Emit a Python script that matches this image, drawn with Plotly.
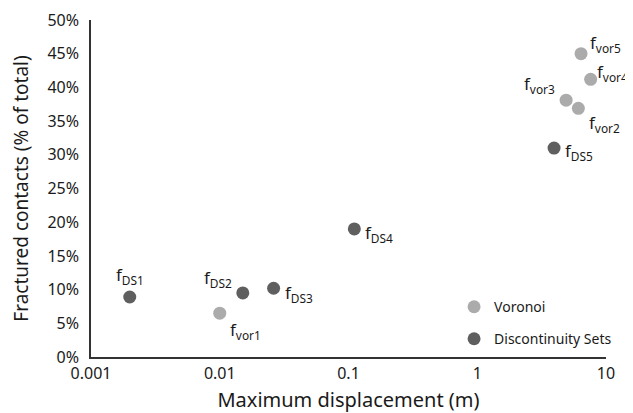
import plotly.graph_objects as go
import math

# Data
vor_labels = ["vor1", "vor2", "vor3", "vor4", "vor5"]
vor_x = [0.0100, 6.1, 4.9, 7.6, 6.4]
vor_y = [6.5, 36.9, 38.1, 41.2, 45.0]

ds_labels = ["DS1", "DS2", "DS3", "DS4", "DS5"]
ds_x = [0.0020, 0.0151, 0.0262, 0.111, 3.95]
ds_y = [8.9, 9.5, 10.2, 19.0, 31.0]

x_ticks = [0.001, 0.01, 0.1, 1, 10]
x_tick_text = ["0.001", "0.01", "0.1", "1", "10"]
y_ticks = [0, 5, 10, 15, 20, 25, 30, 35, 40, 45, 50]
y_tick_text = [f"{v}%" for v in y_ticks]

FONT = "Noto Sans"
LIGHT = "#ababab"
DARK = "#5f5f5f"
TXT = "#1a1a1a"

fig = go.Figure()
fig.add_trace(go.Scatter(
    x=vor_x, y=vor_y, mode="markers", name="Voronoi",
    marker=dict(color=LIGHT, size=13), legend="legend", cliponaxis=False))
fig.add_trace(go.Scatter(
    x=ds_x, y=ds_y, mode="markers", name="Discontinuity Sets",
    marker=dict(color=DARK, size=13), legend="legend2", cliponaxis=False))

# label placement (anchor, xshift, yshift)
vor_pos = {
    "vor1": ("left", "top", 8, -3),
    "vor2": ("left", "top", 9, -1),
    "vor3": ("right", "bottom", -9, 1),
    "vor4": ("left", "middle", 4, 7),
    "vor5": ("left", "middle", 7, 10),
}
ds_pos = {
    "DS1": ("center", "bottom", 0, 7),
    "DS2": ("right", "bottom", -9, 0),
    "DS3": ("left", "middle", 9, -5),
    "DS4": ("left", "middle", 9, -5),
    "DS5": ("left", "middle", 9, -3),
}

for labels, xs, ys, pos in [(vor_labels, vor_x, vor_y, vor_pos), (ds_labels, ds_x, ds_y, ds_pos)]:
    for lab, xv, yv in zip(labels, xs, ys):
        xa, ya, dx, dy = pos[lab]
        fig.add_annotation(
            x=math.log10(xv), y=yv, xref="x", yref="y",
            text=f"f<sub>{lab}</sub>", showarrow=False,
            xanchor=xa, yanchor=ya, xshift=dx, yshift=dy,
            font=dict(family=FONT, size=17, color=TXT))

axis_common = dict(
    showgrid=False, zeroline=False, showline=True, linecolor="#333333",
    linewidth=1.5, ticks="", tickfont=dict(family=FONT, size=16, color=TXT),
    automargin=False,
)

legend_common = dict(
    xanchor="left", yanchor="middle", bgcolor="rgba(0,0,0,0)",
    font=dict(family=FONT, size=14, color=TXT), itemwidth=30, borderwidth=0,
    orientation="h", entrywidth=122, entrywidthmode="pixels",
)

# page body has an 8px margin, so the figure is sized to fit the 633x413 window
fig.update_layout(
    width=625, height=405,
    margin=dict(l=83, r=25, t=12, b=56),
    paper_bgcolor="white", plot_bgcolor="white",
    font=dict(family=FONT, color=TXT),
    xaxis=dict(type="log", range=[-3, 1], tickvals=x_ticks, ticktext=x_tick_text,
               title=dict(text="Maximum displacement (m)", font=dict(family=FONT, size=20, color=TXT), standoff=10),
               ticklabelstandoff=1, **axis_common),
    yaxis=dict(range=[0, 50], tickvals=y_ticks, ticktext=y_tick_text,
               title=dict(text="Fractured contacts (% of total)", font=dict(family=FONT, size=19, color=TXT), standoff=14),
               ticklabelstandoff=7, **axis_common),
    showlegend=True,
    legend=dict(x=0.705, y=0.148, **legend_common),
    legend2=dict(x=0.705, y=0.053, **legend_common),
)

fig.write_html("out.html")
